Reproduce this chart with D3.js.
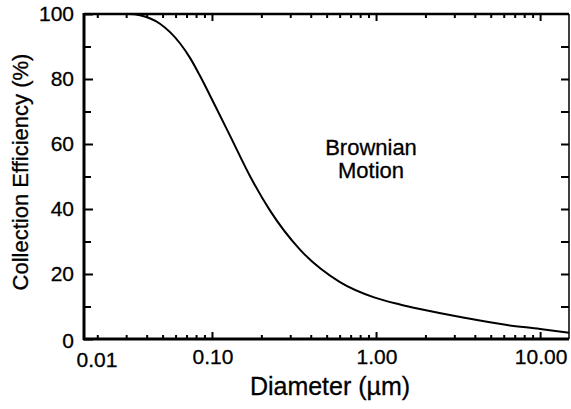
<!DOCTYPE html>
<html>
<head>
<meta charset="utf-8">
<script src="https://cdn.jsdelivr.net/npm/d3@7"></script>
<style>
  body { margin: 0; background: #fff; }
  text { font-family: "Liberation Sans", Arial, sans-serif; fill: #000; stroke: #000; stroke-width: 0.3px; }
</style>
</head>
<body>
<div id="chart"></div>
<script>
// values
const diameter   = [0.0166, 0.0316, 0.0364, 0.0482, 0.0638, 0.0735, 0.0845, 0.104, 0.129, 0.171, 0.226, 0.344, 0.603, 0.973, 1.40, 1.85, 3.39, 6.29, 10, 15];
const efficiency = [100, 100, 99.6, 97, 91, 86.5, 81, 72, 62.5, 50, 39.5, 27.5, 17.5, 12.8, 10.6, 9.2, 6.6, 4.3, 3.1, 1.9];
const xTickValues = [0.1, 1, 10];
const xTickLabels = ["0.10", "1.00", "10.00"];
const xFirstLabel = "0.01";
const yTickValues = [0, 20, 40, 60, 80, 100];
const yMinorValues = [10, 30, 50, 70, 90];
const annotation = ["Brownian", "Motion"];

const margin = { top: 14, left: 84, right: 2, bottom: 70 },
      width = 571 - margin.left - margin.right,
      height = 409 - margin.top - margin.bottom;

const svg = d3.select("#chart")
    .append("svg")
    .attr("width", 571)
    .attr("height", 409);

const plot = svg.append("g")
    .attr("transform", "translate(" + margin.left + "," + margin.top + ")");

const x = d3.scaleLog()
    .domain([0.0166, 15])
    .range([0, width]);

const y = d3.scaleLinear()
    .domain([0, 100])
    .range([height, 0]);

// minor log ticks 2..9 in every decade inside the domain
let xMinor = [];
[0.01, 0.1, 1, 10].forEach(function(dec) {
  for (let k = 2; k <= 9; k++) {
    const v = dec * k;
    if (v > x.domain()[0] && v < x.domain()[1]) xMinor.push(v);
  }
});

// bottom axis, ticks pointing up
plot.append("g")
    .attr("transform", "translate(0," + height + ")")
    .call(d3.axisBottom(x).tickValues(xMinor).tickSize(-4).tickFormat(""))
    .call(g => g.select(".domain").remove());
plot.append("g")
    .attr("transform", "translate(0," + height + ")")
    .call(d3.axisBottom(x).tickValues(xTickValues).tickSize(-7).tickFormat(""))
    .call(g => g.select(".domain").remove());

// top axis, ticks pointing down
plot.append("g")
    .call(d3.axisTop(x).tickValues(xMinor).tickSize(-4).tickFormat(""))
    .call(g => g.select(".domain").remove());
plot.append("g")
    .call(d3.axisTop(x).tickValues(xTickValues).tickSize(-7).tickFormat(""))
    .call(g => g.select(".domain").remove());

// left axis, ticks pointing right
plot.append("g")
    .call(d3.axisLeft(y).tickValues(yTickValues).tickSize(-9).tickFormat(""))
    .call(g => g.select(".domain").remove());
plot.append("g")
    .call(d3.axisLeft(y).tickValues(yMinorValues).tickSize(-7).tickFormat(""))
    .call(g => g.select(".domain").remove());

// right axis, ticks pointing left
plot.append("g")
    .attr("transform", "translate(" + width + ",0)")
    .call(d3.axisRight(y).tickValues(yMinorValues.concat([20, 40, 60, 80])).tickSize(-8).tickFormat(""))
    .call(g => g.select(".domain").remove());

plot.selectAll(".tick line").attr("stroke", "#000").attr("stroke-width", 2);

// frame
plot.append("line").attr("x1", 0).attr("x2", 0).attr("y1", -1).attr("y2", height + 1)
    .attr("stroke", "#000").attr("stroke-width", 3);
plot.append("line").attr("x1", -1).attr("x2", width).attr("y1", height).attr("y2", height)
    .attr("stroke", "#000").attr("stroke-width", 3);
plot.append("line").attr("x1", 0).attr("x2", width).attr("y1", 0).attr("y2", 0)
    .attr("stroke", "#000").attr("stroke-width", 2.5);
plot.append("line").attr("x1", width).attr("x2", width).attr("y1", 0).attr("y2", height)
    .attr("stroke", "#000").attr("stroke-width", 1.5);

// curve
const points = diameter.map(function(d, i) { return [d, efficiency[i]]; });
plot.append("path")
    .datum(points)
    .attr("fill", "none")
    .attr("stroke", "#000")
    .attr("stroke-width", 2)
    .attr("d", d3.line()
      .curve(d3.curveMonotoneX)
      .x(function(d) { return x(d[0]); })
      .y(function(d) { return y(d[1]); })
    );

// y tick labels
plot.selectAll(".ylab")
    .data(yTickValues)
    .enter()
    .append("text")
    .attr("x", -10)
    .attr("y", function(d) { return y(d) + (d === 0 ? 9 : 7); })
    .attr("text-anchor", "end")
    .style("font-size", "21px")
    .text(function(d) { return d; });

// x tick labels
plot.selectAll(".xlab")
    .data(xTickValues)
    .enter()
    .append("text")
    .attr("x", function(d) { return x(d) + 1; })
    .attr("y", height + 25)
    .attr("text-anchor", "middle")
    .style("font-size", "21px")
    .text(function(d, i) { return xTickLabels[i]; });

plot.append("text")
    .attr("x", x(x.domain()[0]) + 13)
    .attr("y", height + 28)
    .attr("text-anchor", "middle")
    .style("font-size", "21px")
    .text(xFirstLabel);

// axis titles
svg.append("text")
    .attr("x", 330)
    .attr("y", 395)
    .attr("text-anchor", "middle")
    .style("font-size", "25px")
    .text("Diameter (µm)");

svg.append("text")
    .attr("transform", "translate(28,172) rotate(-90)")
    .attr("text-anchor", "middle")
    .style("font-size", "22px")
    .text("Collection Efficiency (%)");

// annotation
svg.selectAll(".note")
    .data(annotation)
    .enter()
    .append("text")
    .attr("x", 371)
    .attr("y", function(d, i) { return 155 + i * 23; })
    .attr("text-anchor", "middle")
    .style("font-size", "22px")
    .text(function(d) { return d; });
</script>
</body>
</html>
